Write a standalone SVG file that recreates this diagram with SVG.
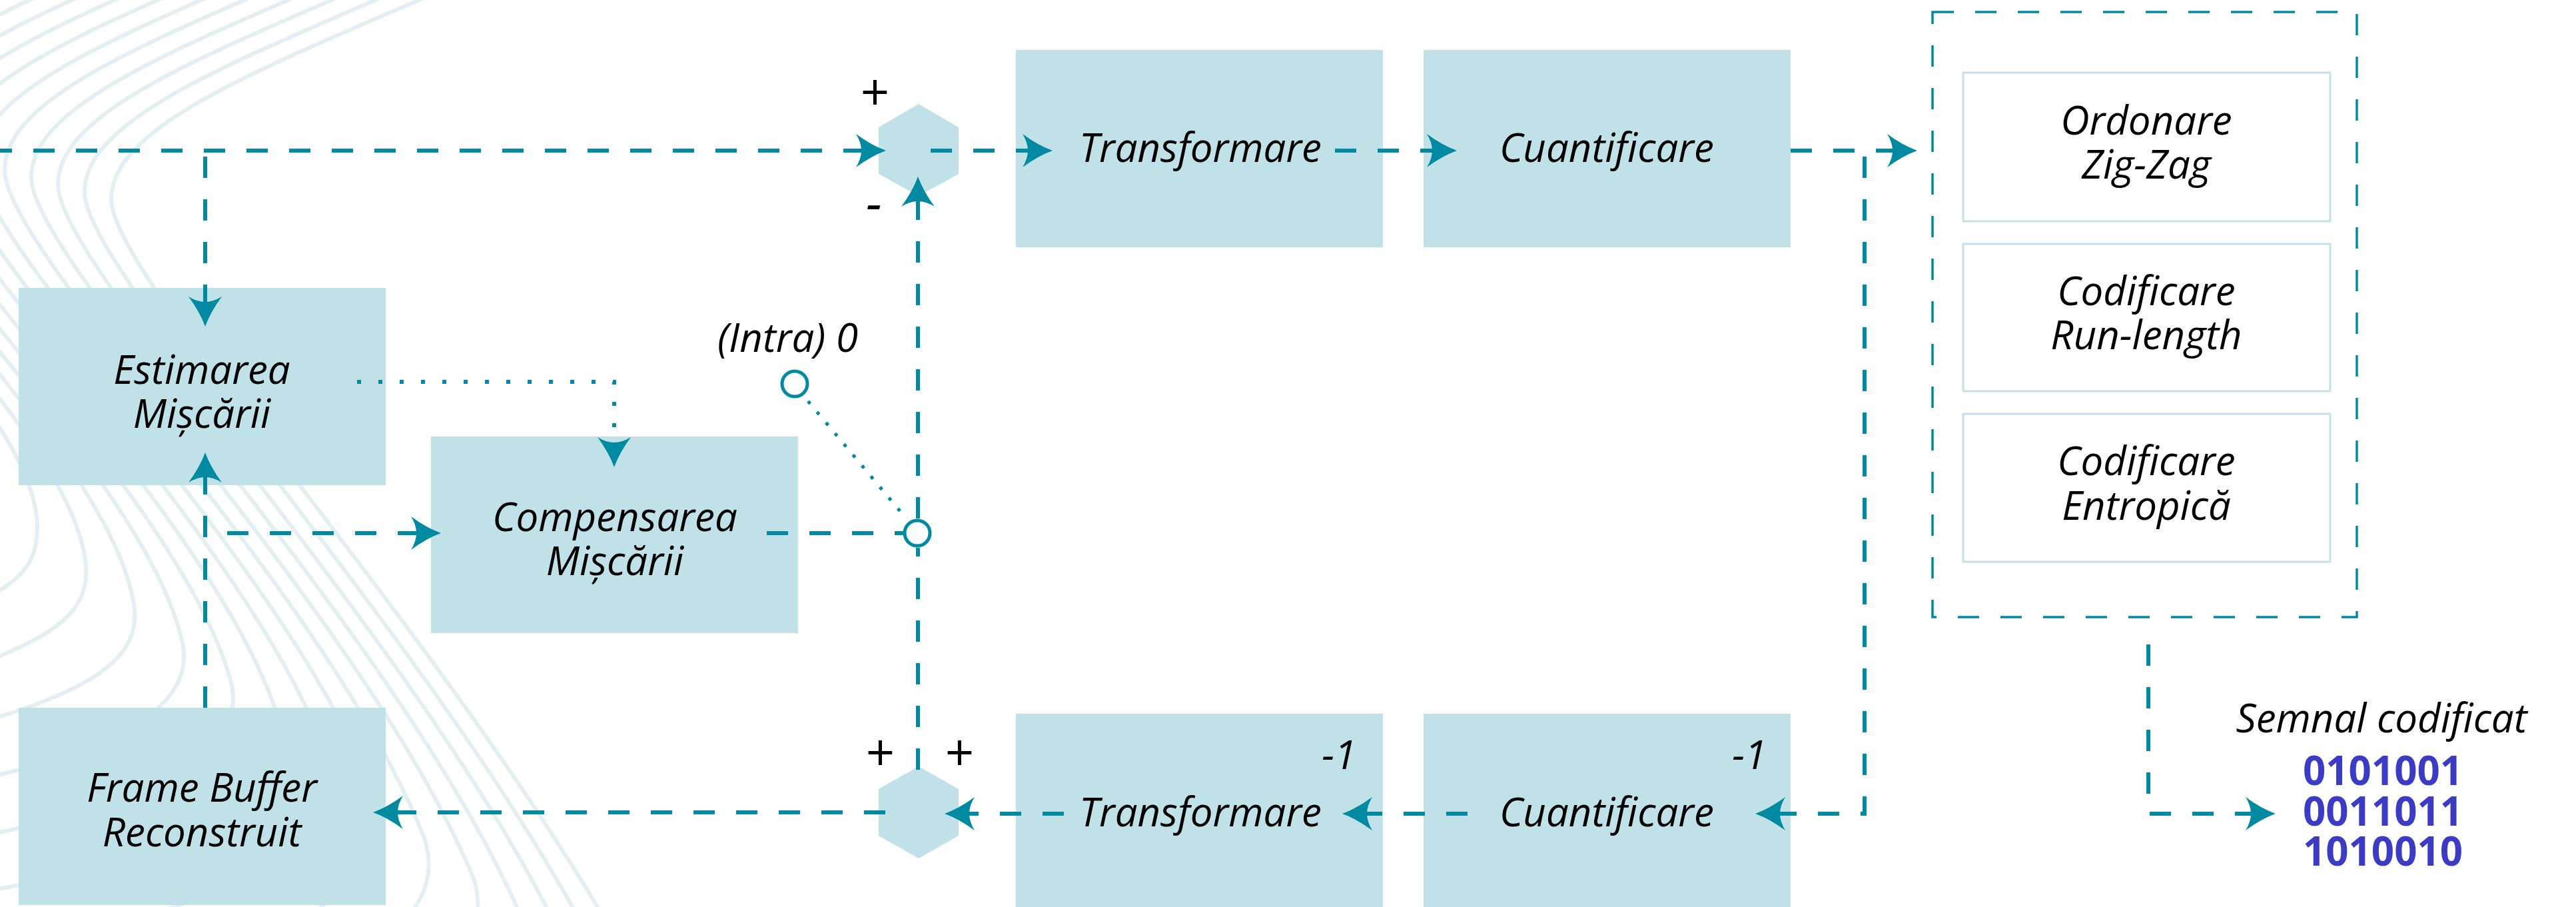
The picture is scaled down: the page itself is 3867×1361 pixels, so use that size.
<svg xmlns="http://www.w3.org/2000/svg" width="3867" height="1361" viewBox="0 0 3867 1361">
<style>
.bg{fill:none;stroke:#E2EFF3;stroke-width:6}
.box{fill:#BFE1E7}
.sub{fill:#FFFFFF;stroke:#C3E3E9;stroke-width:3}
.hex{fill:#BFE1E7}
.t{font-family:"Open Sans","Noto Sans","DejaVu Sans",sans-serif;font-style:italic;font-size:60px;fill:#000;text-anchor:middle}
.ts{font-family:"Open Sans","Noto Sans","DejaVu Sans",sans-serif;font-style:italic;font-size:60px;fill:#000}
.sg{font-family:"Open Sans","Noto Sans","DejaVu Sans",sans-serif;font-style:italic;font-size:76px;fill:#000;text-anchor:middle}
.bin{font-family:"Open Sans","Noto Sans","DejaVu Sans",sans-serif;font-weight:700;font-size:60px;fill:#3B3BC6;text-anchor:middle}
.dash{fill:none;stroke:#008AA1;stroke-width:6;stroke-dasharray:32 32}
.dot{fill:none;stroke:#008AA1;stroke-width:6;stroke-dasharray:6 26}
.dot2{fill:none;stroke:#008AA1;stroke-width:5;stroke-dasharray:5 16}
.cont{fill:none;stroke:#008AA1;stroke-width:3.5;stroke-dasharray:32 32}
.sw{fill:#FFFFFF;stroke:#008AA1;stroke-width:5}
</style>
<defs>
<marker id="ah" markerUnits="userSpaceOnUse" viewBox="-50 -30 60 60" markerWidth="60" markerHeight="60" refX="-30" refY="0" orient="auto">
<path d="M0,0 Q-22,-8 -45,-25 Q-37,-12 -37,0 Q-37,12 -45,25 Q-22,8 0,0 Z" fill="#008AA1"/>
</marker>
</defs>
<rect x="0" y="0" width="3867" height="1361" fill="#FFFFFF"/>
<g id="background">
<path class="bg" d="M720,-40 C430,90 165,180 167,300 C169,430 760,1050 1000,1550 C1100,1800 500,2000 -100,2000"/>
<path class="bg" d="M680,-51 C390,79 125,169 127,289 C129,419 706,1015 927,1492 C1020,1728 463,1914 -100,1919"/>
<path class="bg" d="M640,-62 C350,68 85,158 87,278 C89,408 651,981 855,1433 C939,1655 426,1828 -100,1837"/>
<path class="bg" d="M600,-73 C310,57 45,147 47,267 C49,397 597,946 782,1375 C859,1583 389,1741 -100,1756"/>
<path class="bg" d="M560,-84 C270,46 5,136 7,256 C9,386 543,912 710,1316 C779,1511 352,1655 -100,1674"/>
<path class="bg" d="M520,-95 C230,35 -35,125 -33,245 C-31,375 489,877 637,1258 C699,1439 316,1569 -100,1593"/>
<path class="bg" d="M480,-106 C190,24 -75,114 -73,234 C-71,364 434,842 564,1199 C618,1366 279,1483 -100,1511"/>
<path class="bg" d="M440,-117 C150,13 -115,103 -113,223 C-111,353 380,808 492,1141 C538,1294 242,1397 -100,1430"/>
<path class="bg" d="M400,-128 C110,2 -155,92 -153,212 C-151,342 326,773 419,1082 C458,1222 205,1310 -100,1348"/>
<path class="bg" d="M360,-139 C70,-9 -195,81 -193,201 C-191,331 271,739 347,1024 C377,1149 168,1224 -100,1267"/>
<path class="bg" d="M320,-150 C30,-20 -235,70 -233,190 C-231,320 217,704 274,965 C297,1077 131,1138 -100,1185"/>
<path class="bg" d="M280,-161 C-10,-31 -275,59 -273,179 C-271,309 163,669 201,907 C217,1005 94,1052 -100,1104"/>
<path class="bg" d="M240,-172 C-50,-42 -315,48 -313,168 C-311,298 108,635 129,848 C136,932 57,966 -100,1022"/>
<path class="bg" d="M200,-183 C-90,-53 -355,37 -353,157 C-351,287 54,600 56,790 C56,860 20,880 -100,940"/>
</g>
<g id="estimarea">
<rect class="box" x="28" y="432" width="551" height="296"/>
<text class="t" x="303" y="576">Estimarea</text>
<text class="t" x="303" y="642">Mișcării</text>
</g>
<g id="framebuffer">
<rect class="box" x="28" y="1062" width="551" height="296"/>
<text class="t" x="303" y="1203">Frame Buffer</text>
<text class="t" x="303" y="1270">Reconstruit</text>
</g>
<g id="compensarea">
<rect class="box" x="647" y="655" width="551" height="295"/>
<text class="t" x="923" y="797">Compensarea</text>
<text class="t" x="923" y="863">Mișcării</text>
</g>
<g id="sum-top">
<polygon class="hex" points="1379,156 1439,191 1439,261 1379,294 1319,261 1319,191"/>
<text class="sg" x="1312" y="166">+</text>
<text class="sg" x="1312" y="332">-</text>
</g>
<g id="sum-bottom">
<polygon class="hex" points="1379,1150 1439,1184 1439,1254 1379,1288 1319,1254 1319,1184"/>
<text class="sg" x="1320" y="1157">+</text>
<text class="sg" x="1439" y="1157">+</text>
</g>
<g id="transformare">
<rect class="box" x="1525" y="75" width="551" height="296"/>
<text class="t" x="1802" y="243">Transformare</text>
</g>
<g id="cuantificare">
<rect class="box" x="2137" y="75" width="551" height="296"/>
<text class="t" x="2412" y="243">Cuantificare</text>
</g>
<g id="transformare-inv">
<rect class="box" x="1525" y="1071" width="551" height="296"/>
<text class="t" x="1802" y="1240">Transformare</text>
<text class="ts" x="2036" y="1154" text-anchor="end">-1</text>
</g>
<g id="cuantificare-inv">
<rect class="box" x="2137" y="1071" width="551" height="296"/>
<text class="t" x="2412" y="1240">Cuantificare</text>
<text class="ts" x="2652" y="1154" text-anchor="end">-1</text>
</g>
<g id="codare">
<rect class="cont" x="2901" y="18" width="637" height="908"/>
<g id="ordonare">
<rect class="sub" x="2947" y="109" width="551" height="223"/>
<text class="t" x="3222" y="202">Ordonare</text>
<text class="t" x="3222" y="268">Zig-Zag</text>
</g>
<g id="runlength">
<rect class="sub" x="2947" y="366" width="551" height="221"/>
<text class="t" x="3222" y="458">Codificare</text>
<text class="t" x="3222" y="524">Run-length</text>
</g>
<g id="entropica">
<rect class="sub" x="2947" y="621" width="551" height="222"/>
<text class="t" x="3222" y="713">Codificare</text>
<text class="t" x="3222" y="780">Entropică</text>
</g>
</g>
<g id="iesire">
<text class="t" x="3575" y="1099">Semnal codificat</text>
<text class="bin" x="3577" y="1178">0101001</text>
<text class="bin" x="3577" y="1239">0011011</text>
<text class="bin" x="3577" y="1299">1010010</text>
</g>
<g id="connectors">
<path class="dash" d="M0,226 H1300" stroke-dashoffset="14" marker-end="url(#ah)"/>
<path class="dash" d="M308,235 V460" marker-end="url(#ah)"/>
<path class="dash" d="M308,1062 V709" marker-end="url(#ah)"/>
<path class="dash" d="M341,800 H632" marker-end="url(#ah)"/>
<path class="dot" d="M536,573 H922 V671" marker-end="url(#ah)"/>
<path class="dash" d="M1151,800 H1356"/>
<path class="dash" d="M1378,778 V295" marker-end="url(#ah)"/>
<path class="dash" d="M1378,822 V1161" stroke-dashoffset="19"/>
<path class="dot2" d="M1213,602 L1352,768"/>
<path class="dash" d="M1397,226 H1550" marker-end="url(#ah)"/>
<path class="dash" d="M2004,226 H2157" marker-end="url(#ah)"/>
<path class="dash" d="M2688,226 H2848" marker-end="url(#ah)"/>
<path class="dash" d="M2799,235 V1221 H2665" marker-end="url(#ah)"/>
<path class="dash" d="M2203,1221 H2045" marker-end="url(#ah)"/>
<path class="dash" d="M1597,1221 H1448" marker-end="url(#ah)"/>
<path class="dash" d="M1329,1219 H590" marker-end="url(#ah)"/>
<path class="dash" d="M3225,967 V1221 H3386" marker-end="url(#ah)"/>
</g>
<g id="switch">
<circle class="sw" cx="1193" cy="576" r="19"/>
<circle class="sw" cx="1377" cy="800" r="19"/>
<text class="ts" x="1077" y="528">(Intra) 0</text>
</g>
</svg>
